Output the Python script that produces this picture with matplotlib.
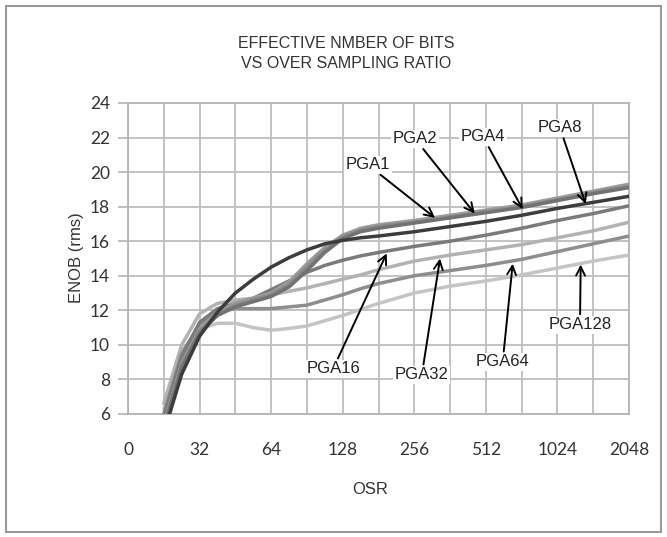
import matplotlib
matplotlib.use("Agg")
import matplotlib.pyplot as plt
from matplotlib.patches import Rectangle

# axis positions (each OSR label step = 2 units)
xpos = [1, 1.5, 2, 2.5, 3, 3.5, 4, 4.5, 5, 5.5, 6, 6.5, 7, 8, 9, 10, 11, 12, 13, 14]
tick_labels = ['0', '32', '64', '128', '256', '512', '1024', '2048']

pga1 = [5.2, 8.7, 10.7, 11.7, 12.2, 12.5, 12.8, 13.35, 14.3, 15.35, 16.15, 16.55, 16.75, 17.05, 17.35, 17.65, 17.95, 18.35, 18.75, 19.1]
pga2 = [5.3, 8.8, 10.8, 11.8, 12.3, 12.6, 12.9, 13.5, 14.5, 15.5, 16.25, 16.65, 16.85, 17.1, 17.4, 17.7, 18.0, 18.4, 18.8, 19.2]
pga4 = [5.4, 8.9, 10.9, 11.9, 12.4, 12.7, 13.0, 13.65, 14.7, 15.65, 16.35, 16.75, 16.95, 17.2, 17.5, 17.8, 18.1, 18.5, 18.9, 19.3]
pga8 = [4.9, 8.3, 10.5, 11.9, 13.0, 13.8, 14.5, 15.05, 15.5, 15.85, 16.05, 16.2, 16.3, 16.55, 16.85, 17.15, 17.5, 17.9, 18.25, 18.6]
pga16 = [5.8, 9.3, 11.3, 12.1, 12.4, 12.7, 13.2, 13.7, 14.2, 14.6, 14.9, 15.15, 15.35, 15.7, 16.0, 16.35, 16.75, 17.2, 17.6, 18.05]
pga32 = [6.6, 10.0, 11.8, 12.4, 12.6, 12.7, 12.9, 13.1, 13.3, 13.55, 13.8, 14.05, 14.35, 14.85, 15.2, 15.5, 15.8, 16.2, 16.6, 17.1]
pga64 = [6.0, 9.5, 11.2, 11.9, 12.1, 12.1, 12.1, 12.2, 12.3, 12.6, 12.9, 13.25, 13.55, 14.0, 14.3, 14.6, 14.95, 15.4, 15.85, 16.3]
pga128 = [6.3, 9.6, 10.9, 11.25, 11.25, 11.0, 10.85, 10.95, 11.1, 11.4, 11.7, 12.05, 12.4, 13.0, 13.4, 13.7, 14.05, 14.45, 14.85, 15.2]

series = [
    ('PGA128', pga128, '#c4c4c4'),
    ('PGA32', pga32, '#b2b2b2'),
    ('PGA64', pga64, '#8e8e8e'),
    ('PGA16', pga16, '#7a7a7a'),
    ('PGA4', pga4, '#9c9c9c'),
    ('PGA2', pga2, '#8a8a8a'),
    ('PGA1', pga1, '#727272'),
    ('PGA8', pga8, '#3c3c3c'),
]

# label text position, arrow tip (data units)
notes = {
    'PGA1': ((6.70, 20.43), (8.58, 17.35)),
    'PGA2': ((8.02, 21.93), (9.69, 17.6)),
    'PGA4': ((9.92, 22.05), (11.03, 17.85)),
    'PGA8': ((12.07, 22.57), (12.79, 18.15)),
    'PGA16': ((5.73, 8.61), (7.23, 15.3)),
    'PGA32': ((8.21, 8.26), (8.72, 15.0)),
    'PGA64': ((10.47, 9.01), (10.75, 14.7)),
    'PGA128': ((12.63, 11.16), (12.65, 14.65)),
}

fig = plt.figure(figsize=(6.67, 5.37), dpi=100)
fig.add_artist(Rectangle((6 / 667, 1 - 532 / 537), 655 / 667, 526 / 537,
                         transform=fig.transFigure, fill=False,
                         edgecolor='#9a9a9a', linewidth=1.5))
ax = fig.add_axes([128 / 667, 1 - 414 / 537, 501 / 667, 311 / 537])

for name, vals, col in series:
    ax.plot(xpos, vals, color=col, linewidth=2.5, solid_joinstyle='round',
            solid_capstyle='round', zorder=3)

ax.set_xlim(0, 14)
ax.set_ylim(6, 24)
ax.set_xticks(range(15))
ax.set_xticklabels([tick_labels[i // 2] if i % 2 == 0 else '' for i in range(15)],
                   family='Lato', fontsize=12.5)
ax.set_yticks(range(6, 25, 2))
ax.set_yticklabels([str(v) for v in range(6, 25, 2)], family='Lato', fontsize=12.5)
ax.tick_params(axis='x', length=0, pad=20, colors='#333333')
ax.tick_params(axis='y', length=7, width=1.2, pad=6, colors='#333333')
ax.tick_params(axis='y', color='#b4b4b4')
ax.grid(True, color='#bdbdbd', linewidth=1.3)
ax.set_axisbelow(True)
for sp in ax.spines.values():
    sp.set_color('#b4b4b4')
    sp.set_linewidth(1.3)

for name, (txt, tip) in notes.items():
    ax.annotate(name, xy=tip, xytext=txt, ha='center', va='center',
                family='Liberation Sans', fontsize=12, color='#222222',
                bbox=dict(boxstyle='square,pad=0.1', fc='white', ec='none'),
                arrowprops=dict(arrowstyle='->', color='black', lw=1.4,
                                shrinkA=1, shrinkB=0, mutation_scale=16),
                zorder=5)

fig.text(346 / 667, 1 - 44 / 537, 'EFFECTIVE NMBER OF BITS', ha='center', va='center',
         family='Liberation Sans', fontsize=11.5, color='#333333')
fig.text(346 / 667, 1 - 63 / 537, 'VS OVER SAMPLING RATIO', ha='center', va='center',
         family='Liberation Sans', fontsize=11.5, color='#333333')
fig.text(77 / 667, 1 - 258 / 537, 'ENOB (rms)', rotation=90, ha='center', va='center',
         family='Liberation Sans', fontsize=12, color='#333333')
fig.text(370 / 667, 1 - 490 / 537, 'OSR', ha='center', va='center',
         family='Liberation Sans', fontsize=12, color='#333333')

fig.savefig('out.png', dpi=100)
